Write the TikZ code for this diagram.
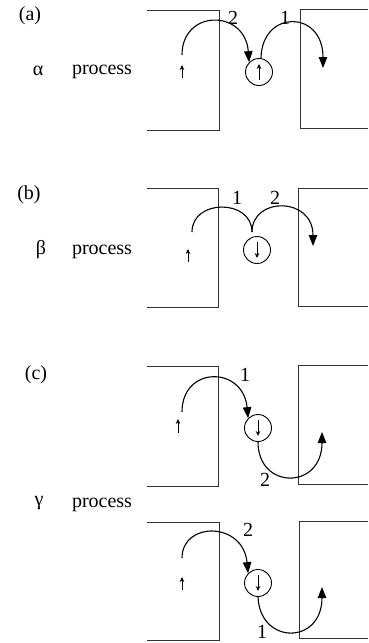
\documentclass[tikz,border=0pt]{standalone}
\usepackage{fontspec}
\setmainfont{Liberation Serif}
\usetikzlibrary{arrows.meta}
\begin{document}
\begin{tikzpicture}[x=1pt,y=-1pt,
  wall/.style={line width=0.9pt,black!80},
  hop/.style={line width=1.1pt,-{Triangle[length=11pt,width=8.5pt]}},
  spin/.style={line width=0.9pt,-{Stealth[length=5pt,width=4.5pt]}},
  site/.style={circle,draw,line width=0.9pt,minimum size=27pt,inner sep=0pt},
  lbl/.style={font=\fontsize{20}{20}\selectfont,inner sep=0pt},
  num/.style={font=\fontsize{20}{20}\selectfont,inner sep=0pt}]
\useasboundingbox (0,0) rectangle (368,643);
% ---------- (a) ----------
\node[lbl] (la) at (30,16) {(a)};
\node[lbl] (alpha) at (38,71) {α};
\node[lbl] (pa) at (102,72) {process};
\draw[wall] (147,10) -- (219,10) -- (219,130) -- (147,130);
\draw[wall] (368,9) -- (300,9) -- (300,128) -- (368,128);
\draw[spin] (182,78) -- (182,65);
\node[site] (ca) at (259,72) {};
\draw[spin] (259,80) -- (259,64);
\coordinate (a2s) at (182,55);
\coordinate (a1e) at (323,68);
\draw[hop] (a2s) .. controls (182,9) and (245,9) .. (ca.north west);
\draw[hop] (ca.north) ++(2,0) coordinate (a1s) (a1s) .. controls (262,9.5) and (323,9.5) .. (a1e);
\node[num] (na2) at (233,18) {2};
\node[num] (na1) at (285,18) {1};
% ---------- (b) ----------
\node[lbl] (lb) at (29,195) {(b)};
\node[lbl] (beta) at (41,250) {β};
\node[lbl] (pb) at (102,252) {process};
\draw[wall] (147,188) -- (218,188) -- (218,307) -- (147,307);
\draw[wall] (368,188) -- (298,188) -- (298,306) -- (368,306);
\draw[spin] (188,262) -- (188,249);
\node[site] (cb) at (257,250) {};
\draw[spin] (257,242) -- (257,258);
\coordinate (b1s) at (192,232);
\coordinate (bm) at (252,232);
\coordinate (b2e) at (313,246);
\draw[line width=1.1pt] (b1s) .. controls (192,198.7) and (252,198.7) .. (bm);
\draw[hop] (bm) .. controls (252,196.5) and (313,196.5) .. (b2e);
\node[num] (nb1) at (237,198) {1};
\node[num] (nb2) at (275,198) {2};
% ---------- (c) upper ----------
\node[lbl] (lc) at (36,375) {(c)};
\draw[wall] (147,366) -- (218,366) -- (218,486) -- (147,486);
\draw[wall] (368,365) -- (298,365) -- (298,484) -- (368,484);
\draw[spin] (178,433) -- (178,419);
\node[site] (cc) at (258,428) {};
\draw[spin] (258,420) -- (258,436);
\coordinate (c1s) at (182,412);
\coordinate (c2e) at (322,432);
\draw[hop] (c1s) .. controls (182,365.7) and (243,365.7) .. (cc.north west);
\draw[hop] (cc.south) .. controls (258,490) and (322,490) .. (c2e);
\node[num] (nc1) at (245,375) {1};
\node[num] (nc2) at (265,480) {2};
% ---------- (c) lower ----------
\node[lbl] (gamma) at (39,503) {γ};
\node[lbl] (pc) at (102,505) {process};
\draw[wall] (147,522) -- (219,522) -- (219,640) -- (147,640);
\draw[wall] (368,521) -- (299,521) -- (299,638) -- (368,638);
\draw[spin] (182,590) -- (182,577);
\node[site] (cd) at (258,583) {};
\draw[spin] (258,575) -- (258,591);
\coordinate (d2s) at (182,558);
\coordinate (d1e) at (322,587);
\draw[hop] (d2s) .. controls (182,521.3) and (243,521.3) .. (cd.north west);
\draw[hop] (cd.south) .. controls (260,645) and (322,645) .. (d1e);
\node[num] (nd2) at (248,530) {2};
\node[num] (nd1) at (262,632) {1};
\end{tikzpicture}
\end{document}
